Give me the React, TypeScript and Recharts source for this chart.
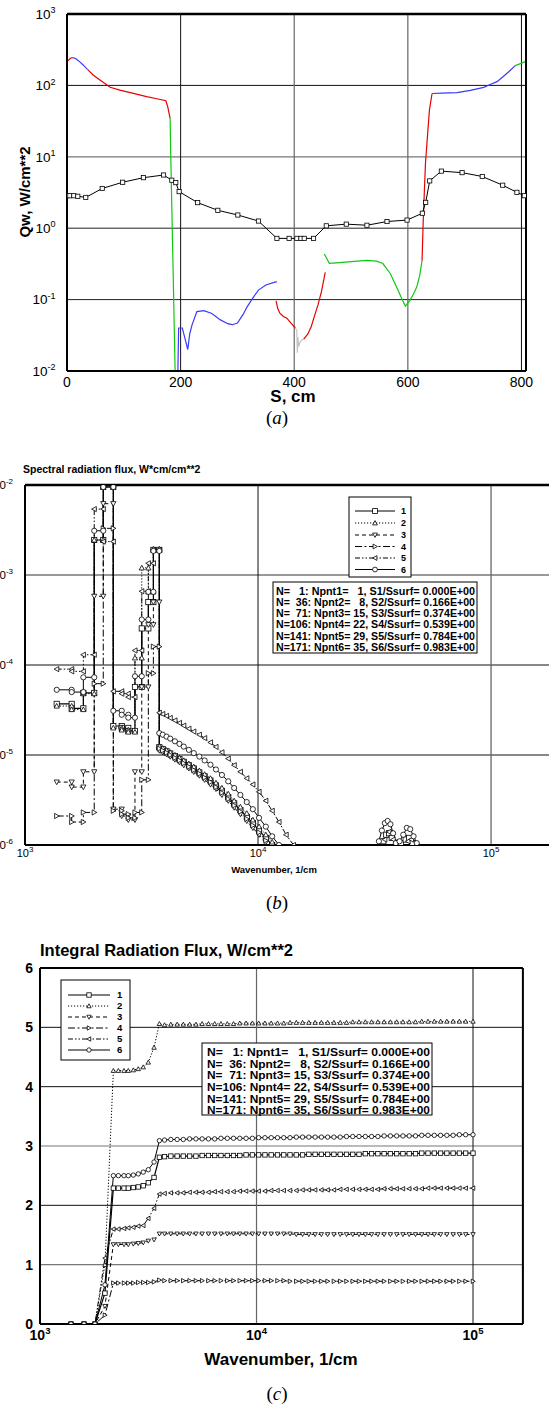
import React from 'react';
import { LineChart, Line, XAxis, YAxis, ReferenceLine } from 'recharts';

const FONT = '"Liberation Sans", Arial, Helvetica, sans-serif';
const SERIF = '"Liberation Serif", "Times New Roman", Times, serif';

// ================= Panel (a): wall heat flux =================
const convS = [0, 5, 12, 19, 33, 62, 98, 134.5, 170, 184.5, 191.5, 197.4, 230, 265.5, 300.7, 337, 369.5, 391, 404.7, 411.8, 417.6, 434, 456.4, 491.6, 528, 563.3, 598.6, 625.5, 631.4, 638.5, 659, 695.5, 731, 767, 792, 805];
const convQ = [2.85, 2.85, 2.85, 2.8, 2.7, 3.6, 4.4, 5.1, 5.56, 4.7, 4.35, 3.25, 2.28, 1.78, 1.53, 1.26, 0.72, 0.72, 0.72, 0.72, 0.72, 0.72, 1.08, 1.14, 1.1, 1.24, 1.3, 1.62, 2.3, 4.6, 6.3, 6.0, 5.3, 4.0, 3.18, 2.85];

const red1S = [2, 6, 10];
const red1Q = [222, 240, 245];
const blue1S = [10, 15, 20, 28, 36];
const blue1Q = [245, 238, 222, 195, 168];
const red2S = [36, 46, 58, 76, 93, 117, 140, 158, 174, 177.4, 181.5];
const red2Q = [168, 140, 119, 94, 86, 77.5, 69.5, 65, 61, 50, 34.6];
const green1S = [181.5, 182.7, 186.5, 190.3, 191.5];
const green1Q = [34.6, 10, 0.33, 0.01, 0.008];
const blue2S = [195, 196.5, 203, 207, 212.6, 216, 220, 228.6, 241, 255, 270, 283, 291, 300, 310, 317, 327, 337, 350, 366, 369.5];
const blue2Q = [0.008, 0.04, 0.04, 0.03, 0.02, 0.033, 0.044, 0.068, 0.07, 0.064, 0.052, 0.046, 0.0445, 0.047, 0.062, 0.079, 0.105, 0.136, 0.16, 0.176, 0.177];
const red3S = [368, 371, 375, 381, 387, 395, 402];
const red3Q = [0.096, 0.075, 0.064, 0.058, 0.055, 0.046, 0.04];
const greyS = [402, 404.5, 405.5, 406.5, 408, 410, 413, 416.8];
const greyQ = [0.04, 0.037, 0.018, 0.03, 0.022, 0.025, 0.027, 0.028];
const red4S = [416.8, 424, 430, 436, 442, 448, 454.6];
const red4Q = [0.028, 0.033, 0.042, 0.06, 0.085, 0.13, 0.24];
const green2S = [453, 461.7, 480, 500, 528, 545, 556, 569, 577, 584, 590, 595.6, 603, 610, 616, 621, 625];
const green2Q = [0.435, 0.322, 0.33, 0.34, 0.355, 0.345, 0.32, 0.232, 0.17, 0.129, 0.1, 0.081, 0.096, 0.12, 0.152, 0.22, 0.35];
const red5S = [625, 627, 628.5, 631, 634, 638, 642.6];
const red5Q = [0.35, 1.2, 2.5, 8, 17, 45, 77];
const blue3S = [642.6, 660, 686.6, 710, 733.6, 745, 757, 768, 777.6, 789];
const blue3Q = [77, 78, 79, 85, 94, 103, 113, 133, 155, 189];
const green3S = [789, 797, 807];
const green3Q = [189, 200, 215];

const RED = '#e80000';
const BLUE = '#3a3aff';
const GREEN = '#10c810';
const GREY = '#c4c4c4';

const segmentsA = [
  { s: red1S, q: red1Q, c: RED },
  { s: blue1S, q: blue1Q, c: BLUE },
  { s: red2S, q: red2Q, c: RED },
  { s: green1S, q: green1Q, c: GREEN },
  { s: blue2S, q: blue2Q, c: BLUE },
  { s: red3S, q: red3Q, c: RED },
  { s: greyS, q: greyQ, c: GREY },
  { s: red4S, q: red4Q, c: RED },
  { s: green2S, q: green2Q, c: GREEN },
  { s: red5S, q: red5Q, c: RED },
  { s: blue3S, q: blue3Q, c: BLUE },
  { s: green3S, q: green3Q, c: GREEN },
];

// ================= Panel (b): spectral radiation flux =================
const bandEdges = [1368, 1586, 1780, 1982, 2167, 2393, 2601, 2775, 2964, 3170, 3383, 3556, 3770];
const band1 = [3.7e-5, 3.3e-5, 4.9e-5, 2.45e-3, 9.5e-3, 2.1e-5, 2.0e-5, 1.85e-5, 5.7e-5, 2.55e-4, 5.0e-4, 1.9e-3];
const band2 = [3.5e-5, 3.2e-5, 4.8e-5, 2.45e-3, 9.8e-3, 2.0e-5, 1.9e-5, 1.8e-5, 1.2e-4, 1.2e-3, 6.5e-4, 1.95e-3];
const band3 = [5.0e-6, 4.4e-6, 6.5e-6, 5.8e-4, 6.2e-3, 2.5e-6, 2.1e-6, 1.9e-6, 6.5e-6, 5.7e-5, 2.8e-4, 5.0e-4];
const band4 = [2.1e-6, 1.8e-6, 2.3e-6, 6.2e-5, 3.3e-3, 2.4e-6, 2.2e-6, 2.0e-6, 2.3e-6, 5.3e-6, 8.1e-5, 1.6e-4];
const band5 = [9.0e-5, 8.5e-5, 1.3e-4, 5.4e-3, 2.35e-3, 5.1e-5, 4.8e-5, 4.4e-5, 1.45e-4, 6.6e-4, 1.35e-3, 1.9e-3];
const band6 = [5.3e-5, 5.0e-5, 7.3e-5, 3.1e-3, 9.5e-3, 3.1e-5, 2.8e-5, 2.6e-5, 7.5e-5, 3.2e-4, 6.5e-4, 1.85e-3];

const decayW = [3770, 3900, 4050, 4200, 4400, 4600, 4800, 5050, 5300, 5600, 5900, 6250, 6600, 7000, 7450, 7900, 8400, 8950, 9500, 10100, 10800, 11500, 12300, 13200, 14200];
const decay1 = [1.22e-5, 1.16e-5, 1.1e-5, 1.04e-5, 9.7e-6, 9.0e-6, 8.4e-6, 7.7e-6, 7.1e-6, 6.4e-6, 5.8e-6, 5.2e-6, 4.6e-6, 4.0e-6, 3.4e-6, 2.9e-6, 2.45e-6, 2.05e-6, 1.75e-6, 1.45e-6, 1.2e-6, 1.0e-6];
const decay2 = [1.25e-5, 1.19e-5, 1.13e-5, 1.07e-5, 1.0e-5, 9.3e-6, 8.7e-6, 8.0e-6, 7.4e-6, 6.7e-6, 6.1e-6, 5.5e-6, 4.9e-6, 4.3e-6, 3.7e-6, 3.1e-6, 2.65e-6, 2.25e-6, 1.9e-6, 1.6e-6, 1.3e-6, 1.08e-6];
const decay3 = [1.12e-5, 1.07e-5, 1.02e-5, 9.6e-6, 8.9e-6, 8.3e-6, 7.7e-6, 7.1e-6, 6.5e-6, 5.9e-6, 5.3e-6, 4.7e-6, 4.2e-6, 3.6e-6, 3.1e-6, 2.6e-6, 2.2e-6, 1.85e-6, 1.55e-6, 1.3e-6, 1.07e-6];
const decay4 = [1.18e-5, 1.12e-5, 1.06e-5, 1.0e-5, 9.3e-6, 8.7e-6, 8.1e-6, 7.4e-6, 6.8e-6, 6.2e-6, 5.6e-6, 5.0e-6, 4.4e-6, 3.8e-6, 3.25e-6, 2.75e-6, 2.35e-6, 1.95e-6, 1.65e-6, 1.38e-6, 1.12e-6];
const decay5 = [2.95e-5, 2.85e-5, 2.72e-5, 2.58e-5, 2.42e-5, 2.27e-5, 2.12e-5, 1.96e-5, 1.82e-5, 1.68e-5, 1.54e-5, 1.38e-5, 1.23e-5, 1.07e-5, 9.1e-6, 7.7e-6, 6.5e-6, 5.5e-6, 4.7e-6, 3.9e-6, 3.1e-6, 2.4e-6, 1.8e-6, 1.3e-6, 1.0e-6];
const decay6 = [1.75e-5, 1.68e-5, 1.6e-5, 1.52e-5, 1.42e-5, 1.33e-5, 1.24e-5, 1.14e-5, 1.05e-5, 9.6e-6, 8.7e-6, 7.8e-6, 6.9e-6, 6.0e-6, 5.1e-6, 4.3e-6, 3.6e-6, 3.0e-6, 2.5e-6, 2.0e-6, 1.6e-6, 1.25e-6, 1.0e-6];

const far1W = [34500, 35500, 36500, 37500, 41000, 43000, 44500, 46000];
const far1V = [1.1e-6, 1.3e-6, 1.35e-6, 1.2e-6, 1.05e-6, 1.15e-6, 1.2e-6, 1.05e-6];
const far5W = [35000, 36500, 38000, 44000, 45500];
const far5V = [1.15e-6, 1.4e-6, 1.15e-6, 1.1e-6, 1.15e-6];
const far6W = [33000, 34000, 35000, 36000, 37000, 38000, 39000, 40500, 42000, 43500, 45000, 46500, 48000];
const far6V = [1.1e-6, 1.45e-6, 1.75e-6, 1.85e-6, 1.7e-6, 1.35e-6, 1.05e-6, 1.1e-6, 1.3e-6, 1.55e-6, 1.5e-6, 1.25e-6, 1.05e-6];

// ================= Panel (c): integral radiation flux =================
const riseW = [1390, 1597, 1794, 1995, 2182, 2301, 2444, 2558, 2698, 2843, 2999, 3163, 3363, 3559];
const rise1 = [0, 0, 0, 0.52, 2.29, 2.29, 2.29, 2.29, 2.3, 2.31, 2.33, 2.38, 2.47, 2.81];
const rise2 = [0, 0, 0, 1.0, 4.27, 4.27, 4.27, 4.27, 4.28, 4.3, 4.33, 4.41, 4.66, 5.06];
const rise3 = [0, 0, 0, 0.3, 1.34, 1.34, 1.34, 1.34, 1.35, 1.36, 1.37, 1.4, 1.42, 1.52];
const rise4 = [0, 0, 0, 0.15, 0.69, 0.69, 0.69, 0.69, 0.69, 0.7, 0.7, 0.7, 0.71, 0.74];
const rise5 = [0, 0, 0, 1.11, 1.6, 1.6, 1.61, 1.62, 1.63, 1.65, 1.66, 1.78, 1.95, 2.19];
const rise6 = [0, 0, 0, 0.66, 2.5, 2.5, 2.5, 2.5, 2.51, 2.53, 2.56, 2.6, 2.73, 3.09];

const flatW = [
  3760, 4020, 4300, 4590, 4910, 5250, 5610, 6000, 6410, 6850,
  7330, 7830, 8370, 8950, 9570, 10230, 10940, 11690, 12500, 13360,
  14280, 15270, 16320, 17450, 18650, 19940, 21310, 22780, 24360, 26040,
  27830, 29750, 31810, 34000, 36350, 38850, 41530, 44400, 47460, 50740,
  54240, 57980, 61980, 66260, 70830, 75710, 80940, 86520, 92490, 100000,
];
const flat1 = [
  2.82, 2.83, 2.83, 2.83, 2.83, 2.83, 2.84, 2.84, 2.84, 2.84,
  2.84, 2.84, 2.84, 2.85, 2.85, 2.85, 2.85, 2.85, 2.85, 2.85,
  2.85, 2.85, 2.85, 2.86, 2.86, 2.86, 2.86, 2.86, 2.86, 2.86,
  2.86, 2.86, 2.87, 2.87, 2.87, 2.87, 2.87, 2.87, 2.87, 2.87,
  2.87, 2.88, 2.88, 2.88, 2.88, 2.88, 2.88, 2.88, 2.88, 2.88,
];
const flat2 = [
  5.04, 5.05, 5.05, 5.05, 5.05, 5.05, 5.06, 5.06, 5.06, 5.06,
  5.06, 5.06, 5.07, 5.07, 5.07, 5.07, 5.07, 5.07, 5.07, 5.07,
  5.08, 5.08, 5.08, 5.08, 5.08, 5.08, 5.08, 5.08, 5.08, 5.08,
  5.09, 5.09, 5.09, 5.09, 5.09, 5.09, 5.09, 5.09, 5.09, 5.09,
  5.09, 5.1, 5.1, 5.1, 5.1, 5.1, 5.1, 5.1, 5.1, 5.1,
];
const flat3 = [
  1.52, 1.52, 1.52, 1.52, 1.52, 1.52, 1.52, 1.52, 1.52, 1.52,
  1.52, 1.52, 1.52, 1.52, 1.52, 1.52, 1.52, 1.52, 1.52, 1.52,
  1.52, 1.51, 1.51, 1.51, 1.51, 1.51, 1.51, 1.51, 1.51, 1.51,
  1.51, 1.51, 1.51, 1.51, 1.51, 1.51, 1.51, 1.51, 1.51, 1.51,
  1.51, 1.51, 1.51, 1.51, 1.51, 1.51, 1.51, 1.51, 1.51, 1.51,
];
const flat4 = [
  0.73, 0.73, 0.73, 0.73, 0.73, 0.73, 0.73, 0.73, 0.73, 0.73,
  0.73, 0.73, 0.73, 0.73, 0.73, 0.73, 0.73, 0.73, 0.73, 0.73,
  0.72, 0.72, 0.72, 0.72, 0.72, 0.72, 0.72, 0.72, 0.72, 0.72,
  0.72, 0.72, 0.72, 0.72, 0.72, 0.72, 0.72, 0.72, 0.72, 0.72,
  0.72, 0.72, 0.72, 0.72, 0.72, 0.72, 0.72, 0.72, 0.72, 0.72,
];
const flat5 = [
  2.2, 2.21, 2.21, 2.21, 2.22, 2.22, 2.22, 2.22, 2.23, 2.23,
  2.23, 2.23, 2.24, 2.24, 2.24, 2.24, 2.24, 2.25, 2.25, 2.25,
  2.25, 2.25, 2.26, 2.26, 2.26, 2.26, 2.26, 2.26, 2.27, 2.27,
  2.27, 2.27, 2.27, 2.27, 2.27, 2.28, 2.28, 2.28, 2.28, 2.28,
  2.28, 2.28, 2.29, 2.29, 2.29, 2.29, 2.29, 2.29, 2.29, 2.29,
];
const flat6 = [
  3.1, 3.11, 3.11, 3.11, 3.12, 3.12, 3.12, 3.12, 3.12, 3.13,
  3.13, 3.13, 3.13, 3.13, 3.13, 3.14, 3.14, 3.14, 3.14, 3.14,
  3.14, 3.15, 3.15, 3.15, 3.15, 3.15, 3.15, 3.15, 3.15, 3.16,
  3.16, 3.16, 3.16, 3.16, 3.16, 3.17, 3.17, 3.17, 3.17, 3.17,
  3.17, 3.18, 3.18, 3.18, 3.18, 3.18, 3.18, 3.19, 3.19, 3.19,
];

const seriesLabels = ['1', '2', '3', '4', '5', '6'];
const tableRows = [
  'N=   1: Npnt1=   1, S1/Ssurf= 0.000E+00',
  'N=  36: Npnt2=   8, S2/Ssurf= 0.166E+00',
  'N=  71: Npnt3= 15, S3/Ssurf= 0.374E+00',
  'N=106: Npnt4= 22, S4/Ssurf= 0.539E+00',
  'N=141: Npnt5= 29, S5/Ssurf= 0.784E+00',
  'N=171: Npnt6= 35, S6/Ssurf= 0.983E+00',
];

// ================= helpers =================
const seriesStyle: any[] = [
  { shape: 'square', dash: undefined, sw: 1.2 },
  { shape: 'up', dash: '1.2 1.8', sw: 1 },
  { shape: 'down', dash: '4 3', sw: 1 },
  { shape: 'right', dash: '7 2.5 2 2.5', sw: 1 },
  { shape: 'left', dash: '5 2 1.5 2 1.5 2', sw: 1 },
  { shape: 'circle', dash: undefined, sw: 1 },
];

const decades = (lo: number, hi: number) => {
  const out: number[] = [];
  for (let e = lo; e <= hi; e++) out.push(Math.pow(10, e));
  return out;
};
const minorLog = (lo: number, hi: number) => {
  const out: number[] = [];
  for (let e = lo; e < hi; e++) for (let m = 2; m <= 9; m++) out.push(m * Math.pow(10, e));
  return out;
};

function drawMarker(shape: string, cx: number, cy: number, r: number, key: any, fill = '#fff', sw = 0.8) {
  const common = { fill, stroke: '#000', strokeWidth: sw };
  switch (shape) {
    case 'square':
      return <rect key={key} x={cx - r} y={cy - r} width={2 * r} height={2 * r} {...common} />;
    case 'circle':
      return <circle key={key} cx={cx} cy={cy} r={r} {...common} />;
    case 'up':
      return <polygon key={key} points={`${cx},${cy - r} ${cx - r},${cy + r * 0.8} ${cx + r},${cy + r * 0.8}`} {...common} />;
    case 'down':
      return <polygon key={key} points={`${cx},${cy + r} ${cx - r},${cy - r * 0.8} ${cx + r},${cy - r * 0.8}`} {...common} />;
    case 'right':
      return <polygon key={key} points={`${cx + r},${cy} ${cx - r * 0.8},${cy - r} ${cx - r * 0.8},${cy + r}`} {...common} />;
    case 'left':
      return <polygon key={key} points={`${cx - r},${cy} ${cx + r * 0.8},${cy - r} ${cx + r * 0.8},${cy + r}`} {...common} />;
    default:
      return <g key={key} />;
  }
}

const dotFn = (shape: string, r: number) => (p: any) => {
  const { cx, cy, index } = p;
  if (cx == null || cy == null || !isFinite(cx) || !isFinite(cy)) return <g key={`n${index}`} />;
  return drawMarker(shape, cx, cy, r, `d${index}`);
};

const Blank = () => <g />;

function LinTickX(p: any) {
  const { x, y, payload, fs, bold } = p;
  return (
    <text x={x} y={y + fs * 0.72} textAnchor="middle" fontSize={fs} fontFamily={FONT} fontWeight={bold ? 700 : 400} fill="#000">
      {payload.value}
    </text>
  );
}
function LinTickY(p: any) {
  const { x, y, payload, fs, bold } = p;
  return (
    <text x={x} y={y + fs * 0.36} textAnchor="end" fontSize={fs} fontFamily={FONT} fontWeight={bold ? 700 : 400} fill="#000">
      {payload.value}
    </text>
  );
}
function PowTickX(p: any) {
  const { x, y, payload, fs, sfs, bold } = p;
  const e = Math.round(Math.log10(payload.value));
  return (
    <text x={x} y={y + fs * 0.72} textAnchor="middle" fontSize={fs} fontFamily={FONT} fontWeight={bold ? 700 : 400} fill="#000">
      10<tspan dy={-fs * 0.42} fontSize={sfs}>{String(e)}</tspan>
    </text>
  );
}
function PowTickY(p: any) {
  const { x, y, payload, fs, sfs, bold } = p;
  const e = Math.round(Math.log10(payload.value));
  return (
    <text x={x} y={y + fs * 0.36} textAnchor="end" fontSize={fs} fontFamily={FONT} fontWeight={bold ? 700 : 400} fill="#000">
      10<tspan dy={-fs * 0.42} fontSize={sfs}>{String(e)}</tspan>
    </text>
  );
}

const zipData = (xs: number[], ys: number[], kx: string, ky: string) => xs.map((x, i) => ({ [kx]: x, [ky]: ys[i] }));

function buildSpectral(band: number[], decay: number[], farW: number[] = [], farV: number[] = []) {
  const pts: any[] = [];
  band.forEach((v, i) => {
    pts.push({ w: bandEdges[i], v });
    pts.push({ w: bandEdges[i + 1], v });
  });
  decay.forEach((v, i) => pts.push({ w: decayW[i], v }));
  if (farW.length) {
    pts.push({ w: 25000, v: null });
    farW.forEach((w, i) => pts.push({ w, v: farV[i] }));
  }
  return pts;
}
function buildIntegral(rise: number[], flat: number[]) {
  return [...rise.map((f, i) => ({ w: riseW[i], f })), ...flat.map((f, i) => ({ w: flatW[i], f }))];
}

const spectralData = [
  buildSpectral(band1, decay1, far1W, far1V),
  buildSpectral(band2, decay2),
  buildSpectral(band3, decay3),
  buildSpectral(band4, decay4),
  buildSpectral(band5, decay5, far5W, far5V),
  buildSpectral(band6, decay6, far6W, far6V),
];
const integralData = [
  buildIntegral(rise1, flat1),
  buildIntegral(rise2, flat2),
  buildIntegral(rise3, flat3),
  buildIntegral(rise4, flat4),
  buildIntegral(rise5, flat5),
  buildIntegral(rise6, flat6),
];

const frame = { stroke: '#000', strokeWidth: 2 };

// ================= Panel components =================
function PanelA() {
  const xd: [number, number] = [0, 808];
  const yd: [number, number] = [0.01, 1000];
  const minorX = [50, 100, 150, 250, 300, 350, 450, 500, 550, 650, 700, 750];
  return (
    <LineChart width={549} height={400} margin={{ top: 14, right: 23, left: 7, bottom: 0 }}>
      <XAxis dataKey="s" type="number" domain={xd} allowDataOverflow ticks={[0, 200, 400, 600, 800]} interval={0} height={29}
        tickSize={0} tickMargin={5.5} tickLine={false} axisLine={frame} tick={(p: any) => <LinTickX {...p} fs={14} />} />
      <XAxis xAxisId="mn" type="number" domain={xd} allowDataOverflow mirror height={0} ticks={minorX} interval={0}
        tickSize={7} tickLine={{ stroke: '#000', strokeWidth: 1 }} axisLine={false} tick={Blank} />
      <XAxis xAxisId="mj" type="number" domain={xd} allowDataOverflow mirror height={0} ticks={[200, 400, 600]} interval={0}
        tickSize={9} tickLine={{ stroke: '#000', strokeWidth: 2.5 }} axisLine={false} tick={Blank} />
      <YAxis type="number" scale="log" domain={yd} allowDataOverflow ticks={decades(-2, 3)} interval={0} width={60}
        tickSize={0} tickMargin={11.5} tickLine={false} axisLine={frame} tick={(p: any) => <PowTickY {...p} fs={13.5} sfs={9} />} />
      <YAxis yAxisId="mn" type="number" scale="log" domain={yd} allowDataOverflow mirror width={0} ticks={minorLog(-2, 3)} interval={0}
        tickSize={6} tickLine={{ stroke: '#000', strokeWidth: 1 }} axisLine={false} tick={Blank} />
      <YAxis yAxisId="mj" type="number" scale="log" domain={yd} allowDataOverflow mirror width={0} ticks={decades(-1, 2)} interval={0}
        tickSize={11} tickLine={{ stroke: '#000', strokeWidth: 2.5 }} axisLine={false} tick={Blank} />

      <ReferenceLine y={100} stroke="#111" strokeWidth={1} />
      <ReferenceLine y={10} stroke="#777" strokeWidth={1.2} />
      <ReferenceLine y={1} stroke="#222" strokeWidth={1} />
      <ReferenceLine y={0.1} stroke="#222" strokeWidth={1} />
      <ReferenceLine x={200} stroke="#111" strokeWidth={1} />
      <ReferenceLine x={400} stroke="#666" strokeWidth={1.2} />
      <ReferenceLine x={600} stroke="#666" strokeWidth={1.2} />
      <ReferenceLine x={800} stroke="#111" strokeWidth={1} />

      {segmentsA.map((seg, i) => (
        <Line key={`seg${i}`} data={zipData(seg.s, seg.q, 's', 'q')} dataKey="q" type="linear" stroke={seg.c} strokeWidth={1.2}
          dot={false} activeDot={false} isAnimationActive={false} />
      ))}
      <Line data={zipData(convS, convQ, 's', 'q')} dataKey="q" type="linear" stroke="#000" strokeWidth={1}
        dot={dotFn('square', 2.1)} activeDot={false} isAnimationActive={false} />

      <ReferenceLine y={1000} stroke="#000" strokeWidth={2.5} />
      <ReferenceLine x={808} stroke="#000" strokeWidth={2} />
    </LineChart>
  );
}

function PanelB() {
  const xd: [number, number] = [1000, 200000];
  const yd: [number, number] = [1e-6, 1e-2];
  return (
    <LineChart width={640} height={435} margin={{ top: 45, right: 38.8, left: 5, bottom: 0 }}>
      <XAxis dataKey="w" type="number" scale="log" domain={xd} allowDataOverflow ticks={[1000, 10000, 100000]} interval={0} height={30}
        tickSize={0} tickMargin={4} tickLine={false} axisLine={frame} tick={(p: any) => <PowTickX {...p} fs={11} sfs={8} />} />
      <XAxis xAxisId="mn" type="number" scale="log" domain={xd} allowDataOverflow mirror height={0} ticks={minorLog(3, 5)} interval={0}
        tickSize={6} tickLine={{ stroke: '#000', strokeWidth: 1 }} axisLine={false} tick={Blank} />
      <XAxis xAxisId="mj" type="number" scale="log" domain={xd} allowDataOverflow mirror height={0} ticks={[10000, 100000]} interval={0}
        tickSize={10} tickLine={{ stroke: '#000', strokeWidth: 2.5 }} axisLine={false} tick={Blank} />
      <YAxis type="number" scale="log" domain={yd} allowDataOverflow ticks={decades(-6, -2)} interval={0} width={60}
        tickSize={0} tickMargin={12} tickLine={false} axisLine={frame} tick={(p: any) => <PowTickY {...p} fs={11.5} sfs={8} />} />
      <YAxis yAxisId="mn" type="number" scale="log" domain={yd} allowDataOverflow mirror width={0} ticks={minorLog(-6, -2)} interval={0}
        tickSize={6} tickLine={{ stroke: '#000', strokeWidth: 1 }} axisLine={false} tick={Blank} />
      <YAxis yAxisId="mj" type="number" scale="log" domain={yd} allowDataOverflow mirror width={0} ticks={decades(-5, -3)} interval={0}
        tickSize={10} tickLine={{ stroke: '#000', strokeWidth: 2.5 }} axisLine={false} tick={Blank} />

      <ReferenceLine y={1e-3} stroke="#333" strokeWidth={1} />
      <ReferenceLine y={1e-4} stroke="#111" strokeWidth={1} />
      <ReferenceLine y={1e-5} stroke="#111" strokeWidth={1} />
      <ReferenceLine x={10000} stroke="#111" strokeWidth={1} />
      <ReferenceLine x={100000} stroke="#666" strokeWidth={1.3} />

      {spectralData.map((d, i) => (
        <Line key={`sp${i}`} data={d} dataKey="v" type="linear" stroke="#000" strokeWidth={seriesStyle[i].sw}
          strokeDasharray={seriesStyle[i].dash} dot={dotFn(seriesStyle[i].shape, 2.6)} activeDot={false}
          isAnimationActive={false} connectNulls={false} />
      ))}

      <ReferenceLine y={1e-2} stroke="#000" strokeWidth={2.5} />
    </LineChart>
  );
}

function PanelC() {
  const xd: [number, number] = [1000, 170000];
  const yd: [number, number] = [0, 6];
  const minorY = [0.2, 0.4, 0.6, 0.8, 1.2, 1.4, 1.6, 1.8, 2.2, 2.4, 2.6, 2.8, 3.2, 3.4, 3.6, 3.8, 4.2, 4.4, 4.6, 4.8, 5.2, 5.4, 5.6, 5.8];
  return (
    <LineChart width={549} height={454} margin={{ top: 68, right: 26.1, left: 5, bottom: 0 }}>
      <XAxis dataKey="w" type="number" scale="log" domain={xd} allowDataOverflow ticks={[1000, 10000, 100000]} interval={0} height={30}
        tickSize={0} tickMargin={6} tickLine={false} axisLine={frame} tick={(p: any) => <PowTickX {...p} fs={14} sfs={9.5} bold />} />
      <XAxis xAxisId="mn" type="number" scale="log" domain={xd} allowDataOverflow mirror height={0} ticks={minorLog(3, 5)} interval={0}
        tickSize={6} tickLine={{ stroke: '#000', strokeWidth: 1 }} axisLine={false} tick={Blank} />
      <XAxis xAxisId="mj" type="number" scale="log" domain={xd} allowDataOverflow mirror height={0} ticks={[10000, 100000]} interval={0}
        tickSize={10} tickLine={{ stroke: '#000', strokeWidth: 2.5 }} axisLine={false} tick={Blank} />
      <YAxis type="number" domain={yd} allowDataOverflow ticks={[0, 1, 2, 3, 4, 5, 6]} interval={0} width={35}
        tickSize={0} tickMargin={7} tickLine={false} axisLine={frame} tick={(p: any) => <LinTickY {...p} fs={14} bold />} />
      <YAxis yAxisId="mn" type="number" domain={yd} allowDataOverflow mirror width={0} ticks={minorY} interval={0}
        tickSize={6} tickLine={{ stroke: '#000', strokeWidth: 1 }} axisLine={false} tick={Blank} />
      <YAxis yAxisId="mj" type="number" domain={yd} allowDataOverflow mirror width={0} ticks={[1, 2, 3, 4, 5]} interval={0}
        tickSize={11} tickLine={{ stroke: '#000', strokeWidth: 2.5 }} axisLine={false} tick={Blank} />

      <ReferenceLine y={5} stroke="#111" strokeWidth={1} />
      <ReferenceLine y={4} stroke="#111" strokeWidth={1} />
      <ReferenceLine y={3} stroke="#777" strokeWidth={1.2} />
      <ReferenceLine y={2} stroke="#111" strokeWidth={1} />
      <ReferenceLine y={1} stroke="#777" strokeWidth={1.2} />
      <ReferenceLine x={10000} stroke="#666" strokeWidth={1.2} />
      <ReferenceLine x={100000} stroke="#111" strokeWidth={1} />

      {integralData.map((d, i) => (
        <Line key={`in${i}`} data={d} dataKey="f" type="linear" stroke="#000" strokeWidth={seriesStyle[i].sw}
          strokeDasharray={seriesStyle[i].dash} dot={dotFn(seriesStyle[i].shape, 2.2)} activeDot={false}
          isAnimationActive={false} />
      ))}

      <ReferenceLine y={6} stroke="#000" strokeWidth={2} />
      <ReferenceLine x={170000} stroke="#000" strokeWidth={2} />
    </LineChart>
  );
}

function LegendBox({ x, y, w, h, rows, lx1, lx2, tx, fs, r }: any) {
  return (
    <g>
      <rect x={x} y={y} width={w} height={h} fill="#fff" stroke="#000" strokeWidth={1} />
      {rows.map((ry: number, i: number) => (
        <g key={i}>
          <line x1={lx1} x2={lx2} y1={ry} y2={ry} stroke="#000" strokeWidth={seriesStyle[i].sw} strokeDasharray={seriesStyle[i].dash} />
          {drawMarker(seriesStyle[i].shape, (lx1 + lx2) / 2, ry, r, `m${i}`)}
          <text x={tx} y={ry + fs * 0.36} fontSize={fs} fontFamily={FONT} fontWeight={700} fill="#000">{seriesLabels[i]}</text>
        </g>
      ))}
    </g>
  );
}

function TableBox({ x, y, w, h, rows, tx, tlen, fs }: any) {
  return (
    <g>
      <rect x={x} y={y} width={w} height={h} fill="#fff" stroke="#000" strokeWidth={1} />
      {rows.map((ry: number, i: number) => (
        <text key={i} x={tx} y={ry + fs * 0.36} fontSize={fs} fontFamily={FONT} fontWeight={700} fill="#000"
          textLength={tlen} lengthAdjust="spacingAndGlyphs" style={{ whiteSpace: 'pre' }}>
          {tableRows[i]}
        </text>
      ))}
    </g>
  );
}

function Overlay() {
  return (
    <svg width={549} height={1405} style={{ position: 'absolute', left: 0, top: 0, pointerEvents: 'none' }}>
      {/* panel (a) */}
      <text transform="translate(24,192) rotate(-90)" textAnchor="middle" dominantBaseline="central" fontFamily={FONT}
        fontWeight={700} fontSize={15} fill="#000">Qw, W/cm**2</text>
      <text x={293} y={402} textAnchor="middle" fontFamily={FONT} fontWeight={700} fontSize={17} fill="#000">S, cm</text>
      <text x={277} y={424} textAnchor="middle" fontFamily={SERIF} fontSize={19} fill="#000">(<tspan fontStyle="italic">a</tspan>)</text>

      {/* panel (b) */}
      <text x={23} y={473} fontFamily={FONT} fontWeight={700} fontSize={10.5} fill="#000">Spectral radiation flux, W*cm/cm**2</text>
      <text x={274} y={873} textAnchor="middle" fontFamily={FONT} fontWeight={700} fontSize={9.5} fill="#000">Wavenumber, 1/cm</text>
      <text x={277} y={909} textAnchor="middle" fontFamily={SERIF} fontSize={19} fill="#000">(<tspan fontStyle="italic">b</tspan>)</text>
      <LegendBox x={349} y={497} w={62} h={80} rows={[511, 523, 535, 546.5, 558, 569.5]} lx1={355} lx2={395} tx={401} fs={9} r={2.4} />
      <TableBox x={273} y={582} w={204} h={71} rows={[591, 602.2, 613.4, 624.6, 635.8, 647]} tx={276} tlen={199} fs={10.5} />

      {/* panel (c) */}
      <text x={40} y={956} fontFamily={FONT} fontWeight={700} fontSize={16.5} fill="#000">Integral Radiation Flux, W/cm**2</text>
      <text x={281} y={1365} textAnchor="middle" fontFamily={FONT} fontWeight={700} fontSize={17} fill="#000">Wavenumber, 1/cm</text>
      <text x={277} y={1400} textAnchor="middle" fontFamily={SERIF} fontSize={19} fill="#000">(<tspan fontStyle="italic">c</tspan>)</text>
      <LegendBox x={61} y={980} w={69} h={80} rows={[995, 1006, 1017, 1028, 1039, 1050]} lx1={68} lx2={110} tx={117} fs={9.5} r={2.2} />
      <TableBox x={202} y={1043} w={230} h={72} rows={[1052, 1063.6, 1075.2, 1086.8, 1098.4, 1110]} tx={207} tlen={223} fs={11.5} />
    </svg>
  );
}

export default function App() {
  return (
    <div style={{ position: 'absolute', left: 0, top: 0, width: 549, height: 1405, overflow: 'hidden', background: '#fff' }}>
      <div style={{ position: 'absolute', left: 0, top: 0 }}><PanelA /></div>
      <div style={{ position: 'absolute', left: -40, top: 440 }}><PanelB /></div>
      <div style={{ position: 'absolute', left: 0, top: 900 }}><PanelC /></div>
      <Overlay />
    </div>
  );
}
